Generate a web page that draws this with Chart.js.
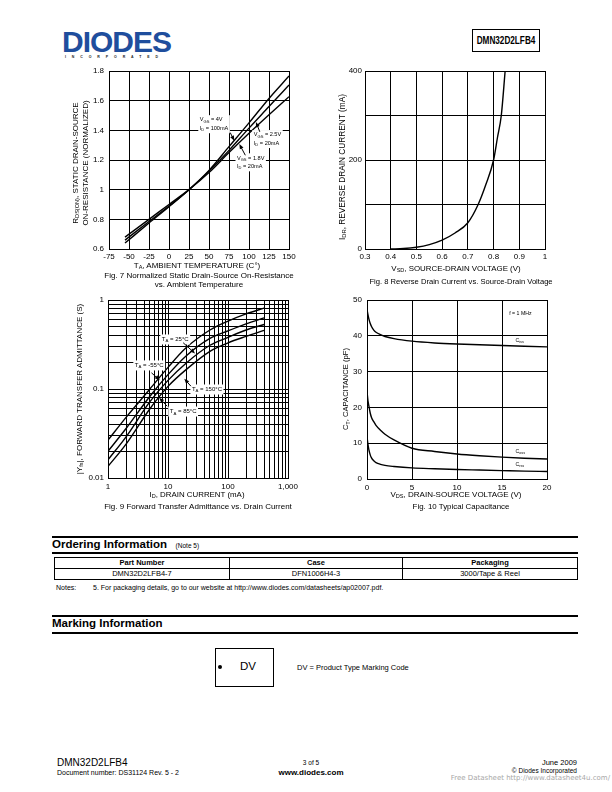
<!DOCTYPE html>
<html>
<head>
<meta charset="utf-8">
<script src="https://cdn.jsdelivr.net/npm/chart.js@4.4.0/dist/chart.umd.min.js"></script>
<style>
  body { margin: 0; width: 612px; height: 792px; position: relative; background: #fff;
         font-family: "Liberation Sans", Arial, sans-serif; color: #000; overflow: hidden; }
  .t { position: absolute; white-space: nowrap; line-height: 1; }
  .c { text-align: center; width: 300px; }
  .rot { transform: translate(-50%, -50%) rotate(-90deg); text-align: center; }
  canvas { position: absolute; }
  sub { font-size: 70%; vertical-align: -0.25em; line-height: 0; }
  .rule { position: absolute; left: 52px; width: 526px; height: 2px; background: #000; }
  table { position: absolute; border-collapse: collapse; table-layout: fixed; font-size: 7.5px; }
  td, th { border: 1px solid #000; height: 10px; padding: 0; text-align: center; line-height: 1; }
</style>
</head>
<body>

<!-- header -->
<div class="t" style="left:62px;top:27px;font-size:30px;font-weight:bold;color:#1f4e9d;letter-spacing:-1px;">DIODES</div>
<div class="t" style="left:65px;top:56px;font-size:3.5px;font-weight:bold;letter-spacing:5.9px;color:#222;">INCORPORATED</div>
<div class="t" style="left:472px;top:29px;width:66px;height:21px;border:1px solid #000;"></div>
<div class="t" style="left:456px;top:35px;width:100px;text-align:center;font-size:10.5px;font-weight:bold;transform:scaleX(0.78);">DMN32D2LFB4</div>

<canvas id="fig7"></canvas>
<canvas id="fig8"></canvas>
<canvas id="fig9"></canvas>
<canvas id="fig10"></canvas>

<!-- fig 7 texts -->
<div class="t rot" style="left:76px;top:163px;font-size:8px;">R<sub>DS(ON)</sub>, STATIC DRAIN-SOURCE</div>
<div class="t rot" style="left:86px;top:163px;font-size:8px;">ON-RESISTANCE (NORMALIZED)</div>
<div class="t c" style="left:47px;top:262px;font-size:8px;">T<sub>A</sub>, AMBIENT TEMPERATURE (C°)</div>
<div class="t c" style="left:49px;top:272px;font-size:8px;">Fig. 7 Normalized Static Drain-Source On-Resistance</div>
<div class="t c" style="left:49px;top:281px;font-size:8px;">vs. Ambient Temperature</div>

<!-- fig 8 texts -->
<div class="t rot" style="left:342px;top:167px;font-size:8.3px;">I<sub>DR</sub>, REVERSE DRAIN CURRENT (mA)</div>
<div class="t c" style="left:306px;top:265px;font-size:7.9px;">V<sub>SD</sub>, SOURCE-DRAIN VOLTAGE (V)</div>
<div class="t c" style="left:311px;top:278px;font-size:7.6px;">Fig. 8 Reverse Drain Current vs. Source-Drain Voltage</div>

<!-- fig 9 texts -->
<div class="t rot" style="left:80px;top:389px;font-size:8px;">|Y<sub>fs</sub>|, FORWARD TRANSFER ADMITTANCE (S)</div>
<div class="t c" style="left:47px;top:491px;font-size:7.9px;">I<sub>D</sub>, DRAIN CURRENT (mA)</div>
<div class="t c" style="left:48px;top:503px;font-size:8px;">Fig. 9 Forward Transfer Admittance vs. Drain Current</div>

<!-- fig 10 texts -->
<div class="t rot" style="left:346px;top:389px;font-size:7.6px;">C<sub>T</sub>, CAPACITANCE (pF)</div>
<div class="t c" style="left:306px;top:491px;font-size:8px;">V<sub>DS</sub>, DRAIN-SOURCE VOLTAGE (V)</div>
<div class="t c" style="left:311px;top:503px;font-size:7.9px;">Fig. 10 Typical Capacitance</div>

<!-- ordering information -->
<div class="rule" style="top:536px;"></div>
<div class="t" style="left:52px;top:539px;font-size:11.5px;font-weight:bold;">Ordering Information <span style="font-size:6.5px;font-weight:normal;">&nbsp;&nbsp;&nbsp;(Note 5)</span></div>
<div class="rule" style="top:552px;"></div>
<table style="left:54px;top:557px;width:523px;border:1.5px solid #000;">
  <colgroup><col style="width:175px"><col style="width:173px"><col style="width:175px"></colgroup>
  <tr><th>Part Number</th><th>Case</th><th>Packaging</th></tr>
  <tr><td>DMN32D2LFB4-7</td><td>DFN1006H4-3</td><td>3000/Tape &amp; Reel</td></tr>
</table>
<div class="t" style="left:56px;top:584px;font-size:7px;">Notes:</div>
<div class="t" style="left:93px;top:584px;font-size:7px;">5. For packaging details, go to our website at http://www.diodes.com/datasheets/ap02007.pdf.</div>

<!-- marking information -->
<div class="rule" style="top:615px;"></div>
<div class="t" style="left:52px;top:618px;font-size:11.5px;font-weight:bold;">Marking Information</div>
<div class="rule" style="top:632px;"></div>
<div class="t" style="left:215px;top:648px;width:57px;height:37px;border:1px solid #000;"></div>
<div class="t" style="left:218px;top:665px;width:4px;height:4px;border-radius:2px;background:#000;"></div>
<div class="t" style="left:240px;top:661px;font-size:11.5px;">DV</div>
<div class="t" style="left:297px;top:664px;font-size:7.5px;">DV = Product Type Marking Code</div>

<!-- footer -->
<div class="t" style="left:57px;top:758px;font-size:10px;">DMN32D2LFB4</div>
<div class="t" style="left:57px;top:769px;font-size:7px;">Document number: DS31124 Rev. 5 - 2</div>
<div class="t c" style="left:161px;top:760px;font-size:6.5px;">3 of 5</div>
<div class="t c" style="left:161px;top:769px;font-size:8px;font-weight:bold;">www.diodes.com</div>
<div class="t" style="right:35px;top:759px;font-size:7.5px;">June 2009</div>
<div class="t" style="right:35px;top:768px;font-size:6.5px;">© Diodes Incorporated</div>
<div class="t" style="right:2px;top:775px;font-size:7px;color:#a8a8a8;font-family:'DejaVu Sans',sans-serif;">Free Datasheet http://www.datasheet4u.com/</div>

<script>
// Fig. 7 - normalized RDS(on) vs ambient temperature
const tempC = [-55, -25, 0, 25, 50, 75, 100, 125, 150];
const rdsVgs4 = [0.64, 0.775, 0.885, 1.0, 1.13, 1.29, 1.45, 1.615, 1.766];
const rdsVgs25 = [0.66, 0.785, 0.89, 1.0, 1.125, 1.265, 1.415, 1.56, 1.706];
const rdsVgs18 = [0.68, 0.80, 0.90, 1.0, 1.115, 1.25, 1.38, 1.505, 1.627];

// Fig. 8 - reverse drain current vs source-drain voltage
const vsd = [0.4, 0.45, 0.5, 0.55, 0.6, 0.65, 0.7, 0.74, 0.77, 0.8, 0.815, 0.83, 0.845];
const idr = [0, 1, 4, 10, 20, 36, 59, 100, 145, 200, 250, 300, 400];

// Fig. 9 - forward transfer admittance vs drain current
const idmA = [1, 2, 5, 10, 20, 50, 100, 200, 400];
const yfsM55 = [0.0266, 0.048, 0.1, 0.175, 0.29, 0.46, 0.58, 0.70, 0.81];
const yfs25 = [0.020, 0.036, 0.083, 0.145, 0.235, 0.37, 0.45, 0.54, 0.63];
const yfs85 = [0.016, 0.029, 0.072, 0.125, 0.195, 0.31, 0.38, 0.46, 0.53];
const yfs150 = [0.0135, 0.024, 0.06, 0.107, 0.165, 0.265, 0.33, 0.39, 0.455];

// Fig. 10 - typical capacitance
const vds = [0, 0.1, 0.2, 0.35, 0.5, 0.75, 1, 1.5, 2, 3, 5, 7.5, 10, 12.5, 15, 17.5, 20];
const ciss = [47.4, 46, 44.8, 43.5, 42.6, 41.6, 41, 40.3, 39.8, 39.2, 38.5, 38.0, 37.7, 37.5, 37.3, 37.1, 36.9];
const coss = [24.4, 22, 20.5, 18.5, 17.2, 16, 15, 13.6, 12.5, 10.9, 8.6, 7.7, 7.0, 6.5, 6.1, 5.8, 5.6];
const crss = [11.9, 9.8, 8.3, 6.8, 5.9, 5.1, 4.6, 4.1, 3.8, 3.5, 3.1, 2.85, 2.65, 2.5, 2.35, 2.2, 2.1];

// tick lists
const fig7XTicks = [-75, -50, -25, 0, 25, 50, 75, 100, 125, 150];
const fig7YTicks = [0.6, 0.8, 1, 1.2, 1.4, 1.6, 1.8];
const fig8XTicks = [0.3, 0.4, 0.5, 0.6, 0.7, 0.8, 0.9, 1];
const fig8YTicks = [0, 100, 200, 300, 400];
const fig8YLabels = ['0', '', '200', '', '400'];
const fig9XTicks = [1, 2, 3, 4, 5, 6, 7, 8, 9, 10, 20, 30, 40, 50, 60, 70, 80, 90, 100, 200, 300, 400, 500, 600, 700, 800, 900, 1000];
const fig9XLabels = { 1: '1', 10: '10', 100: '100', 1000: '1,000' };
const fig9YTicks = [0.01, 0.02, 0.03, 0.04, 0.05, 0.06, 0.07, 0.08, 0.09, 0.1, 0.2, 0.3, 0.4, 0.5, 0.6, 0.7, 0.8, 0.9, 1];
const fig9YLabels = { 0.01: '0.01', 0.1: '0.1', 1: '1' };
const fig10XTicks = [0, 5, 10, 15, 20];
const fig10YTicks = [0, 10, 20, 30, 40, 50];

const FONT = '"Liberation Sans", Arial, sans-serif';

function pts(xs, ys) { return xs.map((x, i) => ({ x: x, y: ys[i] })); }
function plain(v) { return String(Math.round(v * 100) / 100); }

// text with _{sub} parts
function parts(s) {
  const out = []; const re = /_\{([^}]*)\}/g; let last = 0, m;
  while ((m = re.exec(s))) {
    if (m.index > last) out.push({ t: s.slice(last, m.index) });
    out.push({ t: m[1], sub: true });
    last = re.lastIndex;
  }
  if (last < s.length) out.push({ t: s.slice(last) });
  return out;
}
function drawParts(ctx, ps, x, y, size, measureOnly) {
  let w = 0;
  ps.forEach(p => {
    const fs = p.sub ? size * 0.72 : size;
    ctx.font = fs + 'px ' + FONT;
    if (!measureOnly) ctx.fillText(p.t, x + w, p.sub ? y + size * 0.3 : y);
    w += ctx.measureText(p.t).width;
  });
  return w;
}

// boxed labels + arrows, placed in data units
const notesPlugin = {
  id: 'notes',
  afterDatasetsDraw(chart, args, opts) {
    const ctx = chart.ctx, xs = chart.scales.x, ys = chart.scales.y;
    (opts.items || []).forEach(it => {
      const size = it.size || 6;
      const lh = it.lh || size + 3;
      const px = xs.getPixelForValue(it.x), py = ys.getPixelForValue(it.y);
      ctx.save();
      ctx.textBaseline = 'middle';
      const lines = it.lines.map(parts);
      const widths = lines.map(p => drawParts(ctx, p, 0, 0, size, true));
      if (it.box) {
        ctx.fillStyle = '#fff';
        ctx.fillRect(px - 1.5, py - lh / 2 - 0.5, Math.max(...widths) + 3, lh * lines.length + 1);
      }
      ctx.fillStyle = '#000';
      lines.forEach((p, i) => drawParts(ctx, p, px, py + i * lh, size));
      if (it.arrow) {
        const ax = xs.getPixelForValue(it.arrow[0]), ay = ys.getPixelForValue(it.arrow[1]);
        const bx = xs.getPixelForValue(it.arrow[2]), by = ys.getPixelForValue(it.arrow[3]);
        const ang = Math.atan2(by - ay, bx - ax);
        ctx.strokeStyle = '#000'; ctx.lineWidth = 1;
        ctx.beginPath(); ctx.moveTo(ax, ay); ctx.lineTo(bx - Math.cos(ang) * 3, by - Math.sin(ang) * 3); ctx.stroke();
        ctx.beginPath();
        ctx.moveTo(bx, by);
        ctx.lineTo(bx - Math.cos(ang) * 5 + Math.sin(ang) * 2, by - Math.sin(ang) * 5 - Math.cos(ang) * 2);
        ctx.lineTo(bx - Math.cos(ang) * 5 - Math.sin(ang) * 2, by - Math.sin(ang) * 5 + Math.cos(ang) * 2);
        ctx.closePath(); ctx.fill();
      }
      ctx.restore();
    });
  }
};

function curve(data) {
  return { data: data, borderColor: '#000', borderWidth: 1.4, pointRadius: 0, fill: false,
           cubicInterpolationMode: 'monotone' };
}

function axis(type, min, max, tickList, label, pad) {
  return {
    type: type, min: min, max: max,
    afterBuildTicks: s => { s.ticks = tickList.map(v => ({ value: v })); },
    grid: { color: '#000', lineWidth: 1, drawTicks: false },
    border: { color: '#000', width: 1 },
    ticks: { color: '#000', font: { family: FONT, size: 8 }, padding: pad, autoSkip: false, maxRotation: 0,
             callback: (v, i) => label(v, i) }
  };
}

function makeChart(id, area, xScale, yScale, datasets, items) {
  const padL = 40, padR = 16, padT = 10, axisH = 16;
  const c = document.getElementById(id);
  c.width = area.r - area.l + padL + padR;
  c.height = area.b - area.t + padT + axisH;
  c.style.left = (area.l - padL) + 'px';
  c.style.top = (area.t - padT) + 'px';
  xScale.afterFit = s => { s.height = axisH; };
  yScale.afterFit = s => { s.width = padL; };
  return new Chart(c.getContext('2d'), {
    type: 'line',
    data: { datasets: datasets },
    options: {
      responsive: false, animation: false, devicePixelRatio: 1,
      layout: { padding: { left: 0, right: padR, top: padT, bottom: 0 } },
      plugins: { legend: { display: false }, tooltip: { enabled: false }, notes: { items: items } },
      scales: { x: xScale, y: yScale }
    },
    plugins: [notesPlugin]
  });
}

function logLabel(map) {
  return v => {
    const k = Object.keys(map).find(key => Math.abs(Number(key) - v) < 1e-9);
    return k ? map[k] : '';
  };
}

// Fig. 7
makeChart('fig7', { l: 109, r: 289, t: 71, b: 249 },
  axis('linear', -75, 150, fig7XTicks, plain, 3),
  axis('linear', 0.6, 1.8, fig7YTicks, plain, 5),
  [curve(pts(tempC, rdsVgs4)), curve(pts(tempC, rdsVgs25)), curve(pts(tempC, rdsVgs18))],
  [
    { x: 38.5, y: 1.47, lines: ['V_{GS} = 4V', 'I_{D} = 100mA'], box: true, size: 5.6, lh: 8.5,
      arrow: [76.5, 1.385, 81.6, 1.33] },
    { x: 106, y: 1.37, lines: ['V_{GS} = 2.5V', 'I_{D} = 20mA'], box: true, size: 5.6, lh: 8.5,
      arrow: [113.5, 1.39, 108.7, 1.456] },
    { x: 85, y: 1.213, lines: ['V_{GS} = 1.8V', 'I_{D} = 20mA'], box: true, size: 5.6, lh: 8.5,
      arrow: [95.4, 1.232, 87.9, 1.308] }
  ]);

// Fig. 8
makeChart('fig8', { l: 365, r: 545, t: 71, b: 249 },
  axis('linear', 0.3, 1, fig8XTicks, plain, 3),
  axis('linear', 0, 400, fig8YTicks, (v, i) => fig8YLabels[i], 3),
  [curve(pts(vsd, idr))], []);

// Fig. 9
makeChart('fig9', { l: 108, r: 288, t: 300, b: 478 },
  axis('logarithmic', 1, 1000, fig9XTicks, logLabel(fig9XLabels), 4),
  axis('logarithmic', 0.01, 1, fig9YTicks, logLabel(fig9YLabels), 4),
  [curve(pts(idmA, yfsM55)), curve(pts(idmA, yfs25)), curve(pts(idmA, yfs85)), curve(pts(idmA, yfs150))],
  [
    { x: 7.9, y: 0.36, lines: ['T_{A} = 25°C'], box: true, size: 6,
      arrow: [17.9, 0.331, 28.2, 0.251] },
    { x: 2.8, y: 0.184, lines: ['T_{A} = -55°C'], box: true, size: 6,
      arrow: [5.3, 0.152, 7.3, 0.1257] },
    { x: 25, y: 0.0987, lines: ['T_{A} = 150°C'], box: true, size: 6,
      arrow: [24.1, 0.1076, 18.7, 0.13] },
    { x: 10.7, y: 0.0558, lines: ['T_{A} = 85°C'], box: true, size: 6,
      arrow: [9.7, 0.064, 7.13, 0.0796] }
  ]);

// Fig. 10
makeChart('fig10', { l: 367, r: 547, t: 300, b: 479 },
  axis('linear', 0, 20, fig10XTicks, plain, 4),
  axis('linear', 0, 50, fig10YTicks, plain, 5),
  [curve(pts(vds, ciss)), curve(pts(vds, coss)), curve(pts(vds, crss))],
  [
    { x: 15.8, y: 46.2, lines: ['f = 1 MHz'], size: 5.2 },
    { x: 16.5, y: 38.7, lines: ['C_{iss}'], size: 5.2 },
    { x: 16.5, y: 7.8, lines: ['C_{oss}'], size: 5.2 },
    { x: 16.5, y: 4.1, lines: ['C_{rss}'], size: 5.2 }
  ]);
</script>
</body>
</html>
